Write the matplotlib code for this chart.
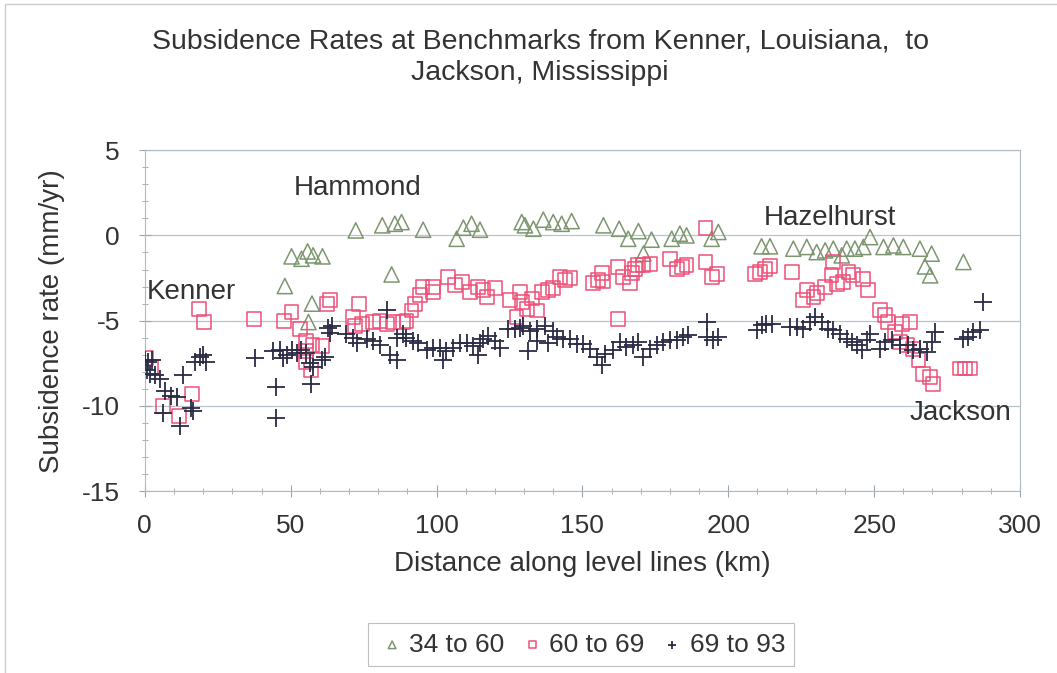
import matplotlib
matplotlib.use('Agg')
import matplotlib.pyplot as plt
from matplotlib.ticker import MultipleLocator
from matplotlib.patches import Rectangle

plt.rcParams['font.family'] = ['Liberation Sans', 'DejaVu Sans']
plt.rcParams['axes.unicode_minus'] = False

# 34 to 60 (triangles)
km_a = [72.3, 81.4, 85.7, 88.0, 95.4, 50.3, 53.7, 55.8, 57.7, 60.9, 48.0, 84.6, 57.3, 56.1,
        106.9, 109.2, 112.0, 114.9, 129.2, 130.3, 133.2, 136.6, 140.0, 142.9, 146.3,
        157.2, 162.6, 165.7, 169.2, 173.7, 170.9, 180.6, 183.4, 185.7, 194.3, 196.6,
        211.4, 214.3, 222.3, 226.9, 230.3, 233.2, 236.0, 238.9, 240.6, 243.4, 246.3, 248.6,
        253.2, 256.6, 260.0, 265.7, 269.7, 267.4, 269.2, 280.6]
rate_a = [0.29, 0.59, 0.68, 0.78, 0.33, -1.23, -1.37, -0.94, -1.17, -1.23, -2.97, -2.29, -4.0, -5.08,
          -0.2, 0.45, 0.68, 0.33, 0.78, 0.59, 0.39, 0.92, 0.78, 0.68, 0.84,
          0.59, 0.39, -0.2, 0.25, -0.25, -1.07, -0.2, 0.1, 0.0, -0.2, 0.2,
          -0.64, -0.64, -0.78, -0.68, -0.98, -0.88, -0.78, -1.17, -0.78, -0.78, -0.68, -0.1,
          -0.68, -0.59, -0.68, -0.78, -1.07, -1.82, -2.34, -1.56]

# 60 to 69 (squares)
km_b = [0.5, 2.0, 6.1, 11.8, 16.3, 18.6, 20.3, 37.5, 47.8, 50.3, 53.1, 55.4, 55.4, 55.4, 57.1,
        57.5, 60.9, 62.3, 63.4, 71.4, 73.4, 72.0, 74.3, 78.3, 80.6, 82.9, 85.1, 88.6, 89.7,
        91.4, 92.6, 94.3, 95.2, 98.9, 98.9, 104.0, 106.3, 108.6, 111.4, 114.3, 116.0, 117.2,
        120.0, 125.2, 127.4, 128.6, 129.2, 130.9, 132.6, 134.3, 136.0, 138.3, 140.0, 142.3,
        144.0, 145.7, 153.7, 155.4, 156.6, 157.2, 162.3, 164.0, 162.3, 166.3, 166.9, 168.0,
        169.2, 170.9, 173.1, 180.0, 182.3, 184.0, 185.7, 192.2, 192.2, 194.3, 196.0,
        209.2, 210.9, 212.6, 214.3, 221.7, 225.7, 226.9, 229.2, 230.3, 233.2, 236.0, 235.4,
        237.2, 239.4, 241.2, 242.9, 246.3, 248.0, 252.0, 253.7, 254.9, 257.2, 259.4, 262.3,
        258.9, 261.2, 263.4, 265.2, 266.9, 269.2, 270.3, 279.4, 281.1, 282.9]
rate_b = [-7.2, -7.7, -10.0, -10.6, -9.3, -4.3, -5.1, -4.9, -5.0, -4.5, -5.5, -6.2, -6.8, -7.4, -7.9,
          -6.4, -6.5, -4.0, -3.8, -4.8, -4.0, -5.3, -5.2, -5.1, -5.0, -5.2, -5.1, -5.1, -5.0,
          -4.4, -4.0, -3.5, -3.0, -3.0, -3.3, -2.44, -2.93, -2.73, -3.3, -3.0, -3.2, -3.6,
          -3.1, -3.8, -4.8, -3.3, -3.9, -4.3, -3.7, -4.4, -3.3, -3.2, -3.1, -2.44,
          -2.6, -2.5, -2.8, -2.6, -2.2, -2.7, -1.86, -2.44, -4.9, -2.8, -2.2, -1.95,
          -1.76, -1.76, -1.66, -1.37, -1.95, -1.86, -1.76, 0.42, -1.56, -2.44, -2.25,
          -2.25, -2.15, -1.95, -1.82, -2.15, -3.8, -3.2, -3.6, -3.4, -3.0, -1.56, -2.34,
          -2.83, -2.73, -2.15, -2.34, -2.54, -3.2, -4.39, -4.69, -5.08, -5.66, -5.18, -5.08,
          -6.25, -6.45, -6.64, -7.32, -8.1, -8.3, -8.7, -7.8, -7.8, -7.8]

# 69 to 93 (crosses)
km_c = [0.0, 1.1, 2.3, 0.6, 1.7, 3.4, 5.1, 6.9, 9.1, 10.9, 6.1, 12.0, 13.1, 16.0, 16.6,
        17.1, 18.9, 20.0, 21.1, 37.7, 45.1, 45.1, 44.0, 46.3, 48.6, 50.3, 52.0, 53.7, 47.4,
        55.4, 57.1, 56.6, 57.7, 60.6, 61.7, 62.9, 63.4, 64.0, 69.0, 71.4, 72.6, 76.0, 78.3,
        80.6, 82.9, 84.0, 86.3, 86.3, 88.6, 89.7, 92.0, 93.7, 96.6, 98.9,
        101.2, 102.3, 103.4, 105.7, 108.0, 110.3, 112.6, 114.3, 114.9, 116.0, 117.7, 120.0,
        121.7, 124.6, 126.9, 128.6, 129.7, 132.0, 134.3, 137.2, 140.0, 131.4, 134.3, 138.3,
        141.2, 143.4, 145.7, 148.0, 150.3, 152.6, 154.9, 156.6, 157.7, 160.6, 162.9, 165.1,
        167.4, 169.2, 170.9, 173.1, 175.4, 177.7, 180.0, 182.3, 184.6, 186.3, 192.6, 192.6,
        194.9, 196.6, 209.7, 211.4, 213.1, 214.9, 221.2, 223.4, 225.7, 228.0, 229.7, 232.0,
        234.3, 236.0, 238.3, 240.6, 242.3, 244.0, 245.7, 247.4, 248.6, 252.0, 253.7, 256.0,
        258.9, 261.7, 263.4, 265.7, 268.0, 269.7, 270.9, 280.6, 282.3, 284.0, 286.3, 287.2]
rate_c = [-7.3, -7.4, -7.3, -7.9, -8.1, -8.2, -8.4, -9.1, -9.4, -9.5, -10.4, -11.2, -8.2, -10.1, -10.3,
          -7.4, -7.1, -7.0, -7.4, -7.2, -8.9, -10.7, -6.8, -6.7, -7.0, -6.7, -6.9, -6.7, -7.2,
          -6.9, -8.7, -7.5, -7.7, -7.3, -7.1, -5.4, -5.7, -5.3, -5.8, -6.0, -6.3, -6.1, -6.2,
          -6.4, -4.4, -7.0, -7.3, -6.0, -5.8, -6.0, -6.2, -6.3, -6.7, -6.6,
          -6.6, -7.3, -6.8, -6.6, -6.3, -6.3, -6.5, -7.0, -6.3, -6.1, -5.9, -6.2,
          -6.6, -5.5, -5.5, -5.4, -5.3, -5.6, -5.5, -5.3, -5.6, -6.8, -6.2, -6.3,
          -5.96, -6.05, -6.05, -6.35, -6.35, -6.64, -7.13, -7.6, -6.93, -6.74, -6.25, -6.54,
          -6.45, -6.25, -7.13, -6.64, -6.45, -6.25, -6.15, -6.15, -5.96, -5.86, -5.08, -5.96,
          -6.15, -5.96, -5.57, -5.27, -5.18, -5.18, -5.37, -5.37, -5.47, -5.08, -4.79, -5.08,
          -5.47, -5.57, -5.76, -6.05, -6.25, -6.45, -6.74, -6.15, -5.76, -6.64, -6.25, -6.15,
          -6.45, -6.45, -6.74, -6.64, -6.84, -6.25, -5.66, -6.05, -5.96, -5.66, -5.57, -3.9]

place_names = ['Kenner', 'Hammond', 'Hazelhurst', 'Jackson']
place_km = [0.5, 51.0, 212.0, 262.0]
place_rate = [-3.3, 2.8, 1.0, -10.4]

green = '#7d9670'
pink = '#ee4f78'
navy = '#2a2b45'
txt = '#333333'

fig = plt.figure(figsize=(10.57, 6.73), dpi=100)
ax = fig.add_axes([0.137, 0.270, 0.828, 0.507])

ax.scatter(km_a, rate_a, marker='^', s=120, facecolors='none', edgecolors=green, linewidths=1.1,
           label='34 to 60', zorder=3)
ax.scatter(km_b, rate_b, marker='s', s=100, facecolors='none', edgecolors=pink, linewidths=1.1,
           label='60 to 69', zorder=3)
ax.scatter(km_c, rate_c, marker='+', s=160, color=navy, linewidths=1.3,
           label='69 to 93', zorder=4)

for name, x, y in zip(place_names, place_km, place_rate):
    ax.text(x, y, name, fontsize=20, color=txt, va='center', ha='left')

ax.set_xlim(0, 300)
ax.set_ylim(-15, 5)
ax.xaxis.set_major_locator(MultipleLocator(50))
ax.xaxis.set_minor_locator(MultipleLocator(10))
ax.yaxis.set_major_locator(MultipleLocator(5))
ax.yaxis.set_minor_locator(MultipleLocator(1))
ax.grid(True, which='major', axis='y', color='#b8c4cc', linewidth=0.9)
ax.set_axisbelow(True)
for s in ax.spines.values():
    s.set_color('#b0b8c0')
ax.tick_params(which='both', direction='inout', colors='#9aa4ac', labelcolor=txt, labelsize=19)
ax.tick_params(which='major', length=8)
ax.tick_params(axis='x', which='major', pad=12)
ax.tick_params(axis='y', which='major', pad=14)
ax.tick_params(which='minor', length=4)

ax.set_xlabel('Distance along level lines (km)', fontsize=20, color=txt, labelpad=10)
ax.set_ylabel('Subsidence rate (mm/yr)', fontsize=20, color=txt, labelpad=12)
fig.text(0.511, 0.915, 'Subsidence Rates at Benchmarks from Kenner, Louisiana,  to\nJackson, Mississippi',
         ha='center', va='center', fontsize=20.5, color=txt, linespacing=1.32)

leg = fig.legend(loc='center', bbox_to_anchor=(0.55, 0.042), ncol=3, fontsize=19,
                 frameon=True, fancybox=False, edgecolor='#b0b0b0', markerscale=0.5,
                 handletextpad=0.1, columnspacing=0.5, handlelength=1.1, borderpad=0.35)
leg.get_frame().set_linewidth(0.8)
for t in leg.get_texts():
    t.set_color(txt)

fig.patches.append(Rectangle((0.005, -0.01), 1.1, 1.004, transform=fig.transFigure,
                             fill=False, edgecolor='#cccccc', linewidth=1))

fig.savefig('out.png', dpi=100)
